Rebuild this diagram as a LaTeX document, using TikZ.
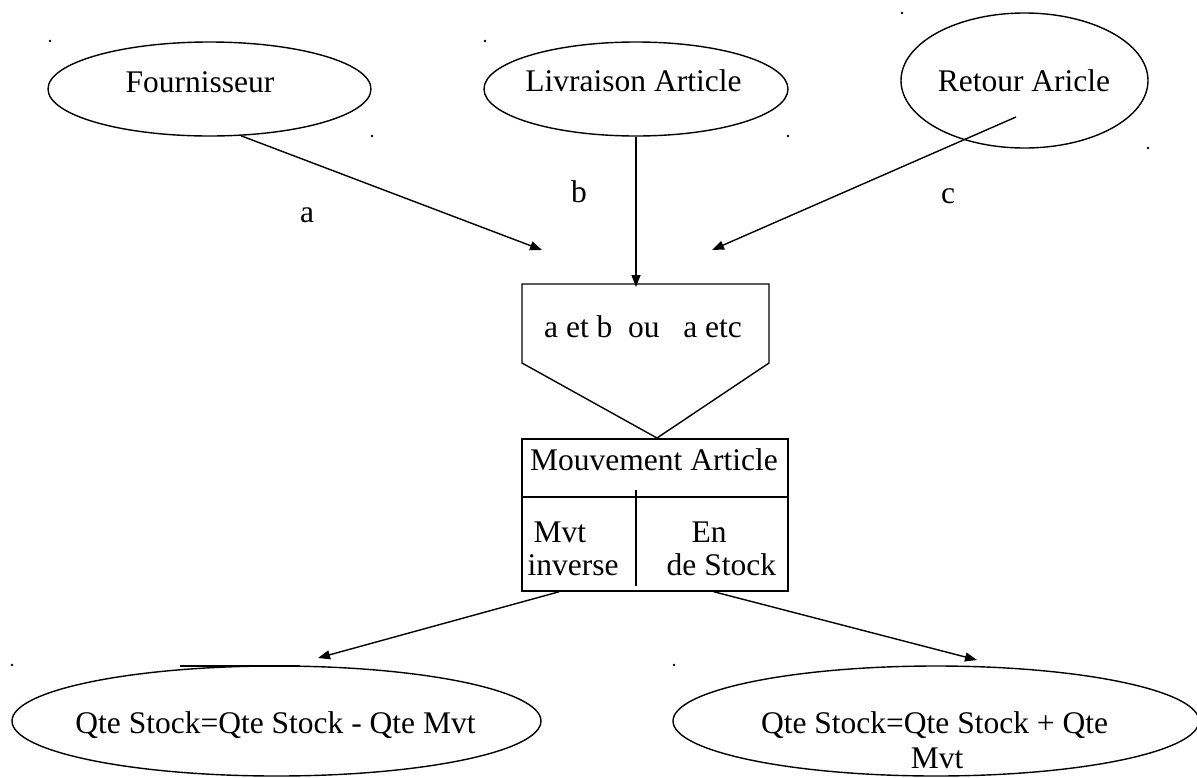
\documentclass[tikz,border=0pt]{standalone}
\usepackage{fontspec}
\setmainfont{Liberation Serif}
\usetikzlibrary{shapes.geometric,arrows.meta,calc}
\begin{document}
\begin{tikzpicture}[x=1pt,y=-1pt,
  line width=1.4pt,
  font=\fontsize{31.5}{35}\selectfont,
  oval/.style={draw,ellipse,inner sep=0pt},
  txt/.style={inner sep=0pt,anchor=base},
  txtl/.style={inner sep=0pt,anchor=base west},
  arr/.style={-{Triangle[length=12pt,width=9pt]}},
  speck/.style={fill=black}]
\useasboundingbox (0,0) rectangle (1197,777);

% source entities
\node[oval,minimum width=323,minimum height=94] (four) at (209.5,89) {};
\node[txt] (fourT) at (200,92) {Fournisseur};
\node[oval,minimum width=304,minimum height=94] (liv) at (636,89) {};
\node[txt] (livT) at (633.5,91) {Livraison Article};
\node[oval,minimum width=247,minimum height=135] (ret) at (1024.5,80.5) {};
\node[txt] (retT) at (1024,91) {Retour Aricle};

% flow labels
\node[txt] (la) at (307,222) {a};
\node[txt] (lb) at (579,202) {b};
\node[txt] (lc) at (948,203) {c};

% incoming flows
\coordinate (tipA) at (542,250);
\coordinate (tipB) at (636,287);
\coordinate (tipC) at (712,250);
\coordinate (retS) at (1016,117);
\draw[arr] (four.-56.6) -- (tipA);
\draw[arr] (liv.south) -- (tipB);
\draw[arr] (retS) -- (tipC);

% synchronisation (pentagon)
\coordinate (pTL) at (522,284);
\coordinate (pTR) at (769,284);
\coordinate (pR) at (769,363);
\coordinate (pB) at (657,438);
\coordinate (pL) at (522,363);
\draw (pTL) -- (pTR) -- (pR) -- (pB) -- (pL) -- cycle;
\node[txt] (pentT) at (643,337) {a et b\ \ ou\ \ \ a etc};

% operation box
\node[draw,minimum width=266,minimum height=152,inner sep=0pt] (mvt) at (655,515) {};
\draw (mvt.west |- 0,497) -- (mvt.east |- 0,497);
\draw (636,490) -- (636,586);
\node[txt] (mvtT) at (654,470) {Mouvement Article};
\node[txtl] (mvtA) at (533,542) {Mvt};
\node[txtl] (mvtB) at (527,575) {inverse};
\node[txtl] (mvtC) at (691,542) {En};
\node[txtl] (mvtD) at (666,575) {de Stock};

% outgoing flows
\coordinate (lowL) at (318,658);
\coordinate (lowR) at (977,660);
\draw[arr] ([xshift=38pt]mvt.south west) -- (lowL);
\draw[arr] ([xshift=-75pt]mvt.south east) -- (lowR);

% results
\node[oval,minimum width=529,minimum height=110] (minus) at (276.5,721) {};
\draw[line width=1.8pt] (180,666) -- (300,666);
\node[txt] (minusT) at (275.5,733) {Qte Stock=Qte Stock - Qte Mvt};
\node[oval,minimum width=526,minimum height=110] (plus) at (936,721) {};
\node[txt] (plusT) at (934.5,733) {Qte Stock=Qte Stock + Qte};
\node[txt] (plusT2) at (937,768) {Mvt};

% stray specks
\foreach \p in {(50,41),(372,136),(485,41),(788,136),(902,13),(1148,148),(12,665),(674,665)}
  \fill[speck] \p circle (1.3);
\end{tikzpicture}
\end{document}
